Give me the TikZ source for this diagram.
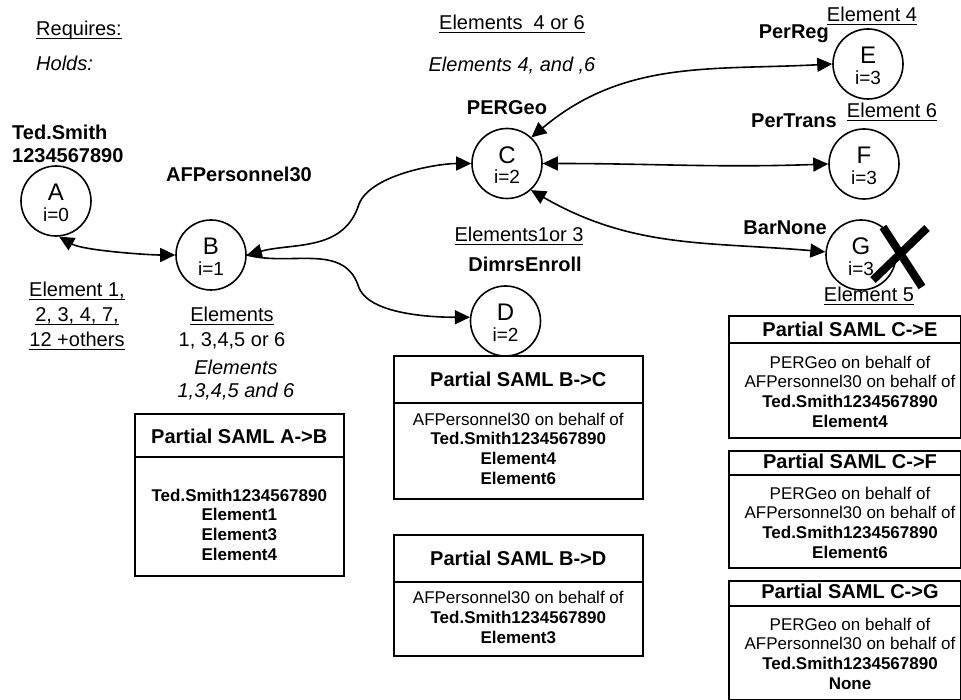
\documentclass[tikz,border=0pt]{standalone}
\usepackage{fontspec}
\setmainfont{Liberation Sans}
\usetikzlibrary{arrows.meta}
\newcommand{\uln}[1]{\setbox0=\hbox{#1}\makebox[0pt][l]{\rule[-3.5pt]{\wd0}{1.3pt}}\box0}
\begin{document}
\begin{tikzpicture}[x=1pt,y=-1pt,
  >={Triangle[length=15pt,width=14pt]},
  conn/.style={line width=1.6pt},
  circ/.style={circle,draw,line width=1.6pt,minimum size=70pt,inner sep=0pt},
  letter/.style={anchor=base,inner sep=0pt,font=\fontsize{24}{24}\selectfont},
  idx/.style={anchor=base,inner sep=0pt,font=\fontsize{19}{19}\selectfont},
  lbl/.style={anchor=base,inner sep=0pt,font=\fontsize{20}{23}\selectfont\bfseries},
  txt/.style={anchor=base,inner sep=0pt,font=\fontsize{20}{25}\selectfont},
  itx/.style={anchor=base,inner sep=0pt,font=\fontsize{20}{22}\selectfont\itshape},
  box/.style={draw,line width=1.6pt,anchor=north west,inner sep=0pt},
  div/.style={line width=1.6pt},
  btitle/.style={anchor=base,inner sep=0pt,font=\fontsize{20}{24}\selectfont\bfseries},
  bbody/.style={anchor=base,inner sep=0pt,align=center,font=\fontsize{17}{19.6}\selectfont},
  cross/.style={line width=8pt},
]
\useasboundingbox (0,0) rectangle (961,700);

% top-left legend
\node[txt,anchor=base west] (req) at (36,36) {\uln{Requires:}};
\node[itx,anchor=base west] (holds) at (36,71) {Holds:};

% circles
\node[circ] (A) at (56,201) {};
\node[circ] (B) at (211,255) {};
\node[circ] (C) at (507,163.5) {};
\node[circ] (D) at (505.5,321) {};
\node[circ] (E) at (868,64) {};
\node[circ] (F) at (864,164) {};
\node[circ] (G) at (861,255) {};

\foreach \n/\l/\i in {A/A/0,B/B/1,C/C/2,D/D/2,E/E/3,F/F/3,G/G/3}{
  \node[letter] (\n l) at (\n.center) {\l};
  \node[idx] (\n i) at ([yshift=-20.5pt]\n.center) {i=\i};
}

% connectors
\coordinate (mBC) at (358,207);
\coordinate (mBD) at (358,285);
\draw[conn,<->] (A.-85) to[out=-30,in=180,looseness=0.6] (B.west);
\draw[conn,<->] (B.east) to[out=15,in=-110] (mBC) to[out=75,in=180,looseness=0.7] (C.west);
\draw[conn,->] (B.east) to[out=-15,in=110] (mBD) to[out=-75,in=180,looseness=0.7] (D.174);
\draw[conn,<->] (C.47) to[out=40,in=183] (E.west);
\draw[conn,<->] (C.east) to[out=0,in=182] (F.west);
\draw[conn,<->] (C.-48) to[out=-30,in=175] (G.175);

% cross over G
\coordinate (x1a) at (873,280); \coordinate (x1b) at (927,228);
\coordinate (x2a) at (883,227); \coordinate (x2b) at (922,287);
\draw[cross] (x1a) -- (x1b);
\draw[cross] (x2a) -- (x2b);

% labels (multi-line nodes: base = last line)
\node[lbl,anchor=base west,align=left] (tedlbl) at (12,163) {Ted.Smith\\1234567890};
\node[lbl] (aflbl) at (239,182) {AFPersonnel30};
\node[txt,align=center] (reqA) at (77,347) {\uln{Element 1,}\\\uln{2, 3, 4, 7,}\\\uln{12 +others}};
\node[txt,align=center] (reqB) at (232,347) {\uln{Elements}\\1, 3,4,5 or 6};
\node[itx,align=center] (holdB) at (236,397) {Elements\\1,3,4,5 and 6};
\node[txt] (reqC) at (512,30) {\uln{Elements\ \ 4 or 6}};
\node[itx] (holdC) at (512,72) {Elements 4, and ,6};
\node[lbl] (pergeo) at (507,115) {PERGeo};
\node[txt] (reqD) at (519,242) {\uln{Elements1or 3}};
\node[lbl] (dimrs) at (525,272) {DimrsEnroll};
\node[txt] (reqE) at (872,22) {\uln{Element 4}};
\node[lbl,anchor=base east] (perreg) at (829,39) {PerReg};
\node[txt] (reqF) at (892,118) {\uln{Element 6}};
\node[lbl,anchor=base east] (pertrans) at (837,128) {PerTrans};
\node[lbl,anchor=base east] (barnone) at (827,235) {BarNone};
\node[txt] (reqG) at (869,302) {\uln{Element 5}};

% box A->B
\node[box,minimum width=209pt,minimum height=162pt] (bAB) at (134,413) {};
\draw[div] (bAB.west |- 0,457) -- (bAB.east |- 0,457);
\node[btitle] (tAB) at (bAB.north |- 0,443) {Partial SAML A->B};
\node[bbody] (cAB) at (bAB.north |- 0,560) {\textbf{Ted.Smith1234567890}\\\textbf{Element1}\\\textbf{Element3}\\\textbf{Element4}};

% box B->C
\node[box,minimum width=249pt,minimum height=143pt] (bBC) at (393,355) {};
\draw[div] (bBC.west |- 0,403) -- (bBC.east |- 0,403);
\node[btitle] (tBC) at (bBC.north |- 0,387) {Partial SAML B->C};
\node[bbody] (cBC) at (bBC.north |- 0,484) {AFPersonnel30 on behalf of\\\textbf{Ted.Smith1234567890}\\\textbf{Element4}\\\textbf{Element6}};

% box B->D
\node[box,minimum width=249pt,minimum height=121pt] (bBD) at (393,534) {};
\draw[div] (bBD.west |- 0,582) -- (bBD.east |- 0,582);
\node[btitle] (tBD) at (bBD.north |- 0,565) {Partial SAML B->D};
\node[bbody] (cBD) at (bBD.north |- 0,643) {AFPersonnel30 on behalf of\\\textbf{Ted.Smith1234567890}\\\textbf{Element3}};

% box C->E
\node[box,minimum width=232pt,minimum height=122pt] (bCE) at (728,315) {};
\draw[div] (bCE.west |- 0,343) -- (bCE.east |- 0,343);
\node[btitle] (tCE) at (850,337) {Partial SAML C->E};
\node[bbody] (cCE) at (850,427) {PERGeo on behalf of\\AFPersonnel30 on behalf of\\\textbf{Ted.Smith1234567890}\\\textbf{Element4}};

% box C->F
\node[box,minimum width=232pt,minimum height=117pt] (bCF) at (728,450) {};
\draw[div] (bCF.west |- 0,475) -- (bCF.east |- 0,475);
\node[btitle] (tCF) at (850,468) {Partial SAML C->F};
\node[bbody] (cCF) at (850,558) {PERGeo on behalf of\\AFPersonnel30 on behalf of\\\textbf{Ted.Smith1234567890}\\\textbf{Element6}};

% box C->G
\node[box,minimum width=232pt,minimum height=119pt] (bCG) at (728,580) {};
\draw[div] (bCG.west |- 0,606) -- (bCG.east |- 0,606);
\node[btitle] (tCG) at (850,598) {Partial SAML C->G};
\node[bbody] (cCG) at (850,689) {PERGeo on behalf of\\AFPersonnel30 on behalf of\\\textbf{Ted.Smith1234567890}\\\textbf{None}};
\end{tikzpicture}
\end{document}
